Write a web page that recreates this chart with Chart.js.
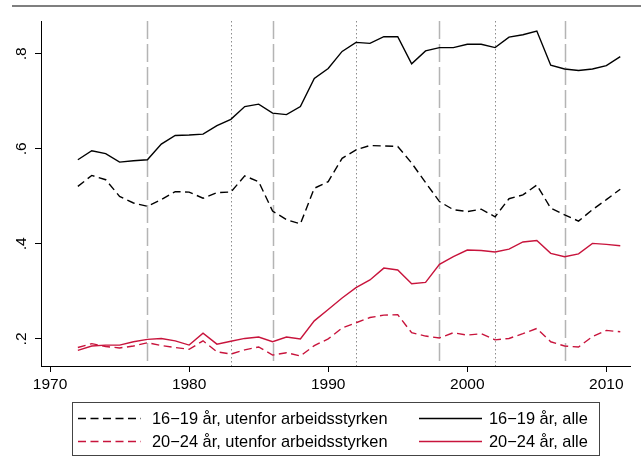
<!DOCTYPE html>
<html><head><meta charset="utf-8">
<script src="https://cdn.jsdelivr.net/npm/chart.js@4.4.1/dist/chart.umd.min.js"></script>
<style>html,body{margin:0;padding:0;background:#fff;overflow:hidden;}</style>
</head><body>
<canvas id="c" width="641" height="466"></canvas>
<script>
const years = [1972,1973,1974,1975,1976,1977,1978,1979,1980,1981,1982,1983,1984,1985,1986,1987,1988,1989,1990,1991,
               1992,1993,1994,1995,1996,1997,1998,1999,2000,2001,2002,2003,2004,2005,2006,2007,2008,2009,2010,2011];
const out1619 = [.521,.544,.535,.500,.486,.479,.493,.510,.509,.496,.508,.509,.543,.531,.469,.451,.442,.517,.531,.580,
                 .598,.607,.606,.605,.570,.529,.489,.472,.468,.473,.457,.495,.503,.524,.475,.461,.448,.472,.493,.515];
const all1619 = [.577,.596,.590,.572,.575,.577,.610,.628,.629,.631,.649,.662,.689,.694,.675,.672,.689,.748,.769,.805,
                 .824,.822,.836,.836,.779,.806,.813,.813,.820,.820,.813,.835,.840,.848,.776,.768,.765,.768,.775,.794];
const out2024 = [.182,.190,.184,.181,.185,.192,.186,.182,.178,.196,.173,.168,.177,.183,.166,.171,.164,.186,.200,.223,
                 .234,.245,.250,.251,.213,.206,.202,.213,.208,.211,.198,.201,.211,.222,.194,.185,.183,.205,.218,.215];
const all2024 = [.176,.185,.187,.187,.194,.199,.201,.196,.187,.212,.189,.195,.201,.204,.194,.204,.200,.238,.262,.286,
                 .308,.324,.349,.345,.316,.319,.357,.373,.387,.386,.383,.389,.404,.407,.380,.373,.379,.401,.399,.396];
const seriesLabels = ['16\u221219 år, utenfor arbeidsstyrken','16\u221219 år, alle',
                      '20\u221224 år, utenfor arbeidsstyrken','20\u221224 år, alle'];
const xTicks = [1970,1980,1990,2000,2010];
const yTicks = [0.2,0.4,0.6,0.8];
const yTickLabels = ['.2','.4','.6','.8'];
const dashedYears = [1977,1986,1998,2007];
const dottedYears = [1983,1992,2002];

const RED = '#c8143c';
const FONT = '"Liberation Sans", Arial, Helvetica, sans-serif';
const pts = arr => years.map((y,i)=>({x:y,y:arr[i]}));

const decor = {
  id:'decor',
  beforeDatasetsDraw(chart){
    const {ctx, chartArea:a, scales:{x}} = chart;
    ctx.save();
    ctx.lineWidth = 1.5; ctx.strokeStyle = '#b4b4b4'; ctx.setLineDash([18,5]);
    dashedYears.forEach(yr=>{ const px = Math.round(x.getPixelForValue(yr))+0.5;
      ctx.beginPath(); ctx.moveTo(px,a.top); ctx.lineTo(px,a.bottom); ctx.stroke(); });
    ctx.lineWidth = 1; ctx.strokeStyle = '#8c8c8c'; ctx.setLineDash([1.5,2.5]);
    dottedYears.forEach(yr=>{ const px = Math.round(x.getPixelForValue(yr))+0.5;
      ctx.beginPath(); ctx.moveTo(px,a.top); ctx.lineTo(px,a.bottom); ctx.stroke(); });
    ctx.restore();
  },
  afterDraw(chart){
    const ctx = chart.ctx;
    ctx.save();
    // top rule
    ctx.strokeStyle = '#555'; ctx.lineWidth = 1.6; ctx.setLineDash([]);
    ctx.beginPath(); ctx.moveTo(12,6); ctx.lineTo(641,6); ctx.stroke();
    // legend
    ctx.strokeStyle = '#444'; ctx.lineWidth = 1;
    ctx.strokeRect(72.5,402.5,527,53);
    const sampleX = [78,419], sampleW = 63, textX = [152,489], rowY = [418,441];
    chart.data.datasets.forEach((ds,i)=>{
      const col = i%2, row = Math.floor(i/2);
      ctx.strokeStyle = ds.borderColor; ctx.lineWidth = ds.borderWidth;
      ctx.setLineDash(ds.borderDash || []);
      ctx.beginPath(); ctx.moveTo(sampleX[col], rowY[row]+0.5); ctx.lineTo(sampleX[col]+sampleW, rowY[row]+0.5); ctx.stroke();
      ctx.setLineDash([]);
      ctx.fillStyle = '#000'; ctx.font = '16.4px '+FONT; ctx.textBaseline='middle'; ctx.textAlign='left';
      ctx.fillText(ds.label, textX[col], rowY[row]+1);
    });
    ctx.restore();
  }
};

new Chart(document.getElementById('c'), {
  type:'line',
  data:{ datasets:[
    {label:seriesLabels[0], data:pts(out1619), borderColor:'#000', borderWidth:1.4, borderDash:[8,4.5]},
    {label:seriesLabels[1], data:pts(all1619), borderColor:'#000', borderWidth:1.4},
    {label:seriesLabels[2], data:pts(out2024), borderColor:RED, borderWidth:1.4, borderDash:[8,4.5]},
    {label:seriesLabels[3], data:pts(all2024), borderColor:RED, borderWidth:1.4}
  ]},
  options:{
    responsive:false, animation:false, devicePixelRatio:1,
    layout:{padding:{top:21,right:11,left:0,bottom:0}},
    elements:{point:{radius:0}, line:{tension:0, fill:false}},
    plugins:{legend:{display:false}, tooltip:{enabled:false}},
    scales:{
      x:{type:'linear', min:1969.35, max:2011.7,
        afterBuildTicks(s){ s.ticks = xTicks.map(v=>({value:v})); },
        afterFit(s){ s.height = 100; },
        grid:{display:true, drawOnChartArea:false, drawTicks:true, tickLength:6, color:'#000', lineWidth:1},
        border:{display:true, color:'#000', width:1},
        ticks:{color:'#000', padding:3, font:{family:FONT, size:15.5}, maxRotation:0, minRotation:0,
          callback:v=>String(v)}
      },
      y:{type:'linear', min:0.143, max:0.869,
        afterBuildTicks(s){ s.ticks = yTicks.map(v=>({value:v})); },
        afterFit(s){ s.width = 41; },
        grid:{display:true, drawOnChartArea:false, drawTicks:true, tickLength:6, color:'#000', lineWidth:1},
        border:{display:true, color:'#000', width:1},
        ticks:{color:'#000', padding:7, crossAlign:'center', minRotation:90, maxRotation:90,
          font:{family:FONT, size:15.5},
          callback:v=>{ const i = yTicks.findIndex(t=>Math.abs(t-v)<1e-9); return i>=0 ? yTickLabels[i] : ''; }}
      }
    }
  },
  plugins:[decor]
});
</script>
</body></html>
